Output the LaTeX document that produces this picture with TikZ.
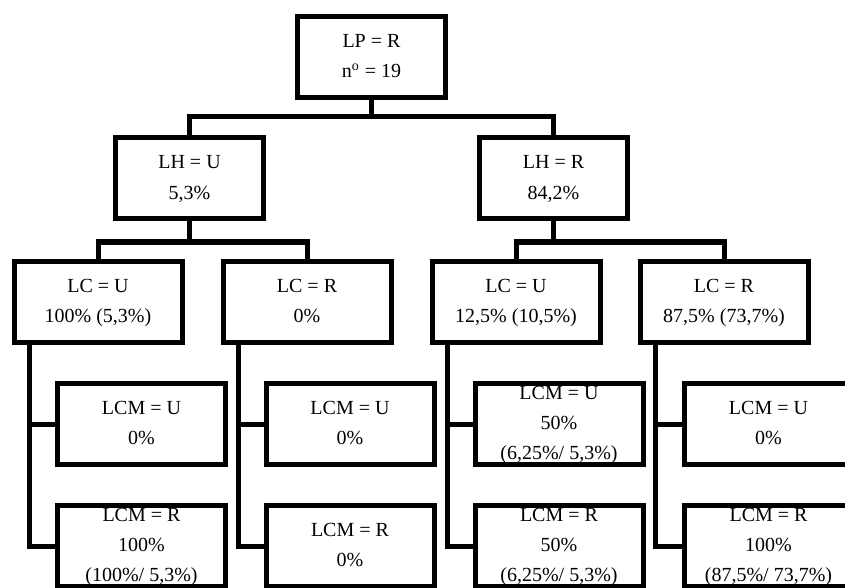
\documentclass[tikz,border=0pt]{standalone}
\usepackage{fontspec}
\setmainfont{Liberation Serif}
\usetikzlibrary{calc}
\newcommand{\bs}{\rule[-2.4pt]{0pt}{10.3pt}}
\begin{document}
\begin{tikzpicture}[x=0.5pt,y=-0.5pt]
	\tikzstyle{every node}+=[inner sep=0pt]
	\tikzstyle{box}=[draw, line width=2.5pt, minimum width=74pt, minimum height=40.5pt, align=center, font=\fontsize{10}{15}\selectfont]
	\tikzstyle{widebox}=[box, minimum width=84pt]
	\tikzstyle{link}=[line width=2.5pt]
	\useasboundingbox (0,0) rectangle (845,588);
	\clip (0,0) rectangle (845,588);
	% level 0 and 1
	\node[box] (top) at (371.5,57) {\bs LP = R\\n\textsuperscript{o} = 19\bs};
	\node[box] (lhu) at (189.5,178.5) {\bs LH = U\\5,3\%\bs};
	\node[box] (lhr) at (553.5,178.5) {\bs LH = R\\84,2\%\bs};
	% level 2
	\node[widebox] (lc1) at (98,301.5) {\bs LC = U\\100\% (5,3\%)\bs};
	\node[widebox] (lc2) at (307,301.5) {\bs LC = R\\0\%\bs};
	\node[widebox] (lc3) at (516,301.5) {\bs LC = U\\12,5\% (10,5\%)\bs};
	\node[widebox] (lc4) at (724,301.5) {\bs LC = R\\87,5\% (73,7\%)\bs};
	% level 3
	\node[widebox] (mu1) at (141.5,424) {\bs LCM = U\\0\%\bs};
	\node[widebox] (mr1) at (141.5,546) {\bs LCM = R\\100\%\\(100\%/ 5,3\%)\bs};
	\node[widebox] (mu2) at (350,424) {\bs LCM = U\\0\%\bs};
	\node[widebox] (mr2) at (350,546) {\bs LCM = R\\0\%\bs};
	\node[widebox] (mu3) at (559,424) {\bs LCM = U\\50\%\\(6,25\%/ 5,3\%)\bs};
	\node[widebox] (mr3) at (559,546) {\bs LCM = R\\50\%\\(6,25\%/ 5,3\%)\bs};
	\node[widebox] (mu4) at (768.5,424) {\bs LCM = U\\0\%\bs};
	\node[widebox] (mr4) at (768.5,546) {\bs LCM = R\\100\%\\(87,5\%/ 73,7\%)\bs};
	% connectors
	\coordinate (b0) at (371.5,117);
	\coordinate (b1) at (189.5,242);
	\coordinate (b2) at (553.5,242);
	\draw[link] (top) -- (b0);
	\draw[link] (lhu.north) |- (b0) -| (lhr.north);
	\draw[link] (lhu) -- (b1);
	\draw[link] (lc1.north) |- (b1) -| (lc2.north);
	\draw[link] (lhr) -- (b2);
	\draw[link] (lc3.north) |- (b2) -| (lc4.north);
	\foreach \i in {1,...,4} {
		\draw[link] ($(lc\i.south west)+(17.5,0)$) |- (mu\i.west);
		\draw[link] ($(lc\i.south west)+(17.5,0)$) |- (mr\i.west);
	}
\end{tikzpicture}
\end{document}
